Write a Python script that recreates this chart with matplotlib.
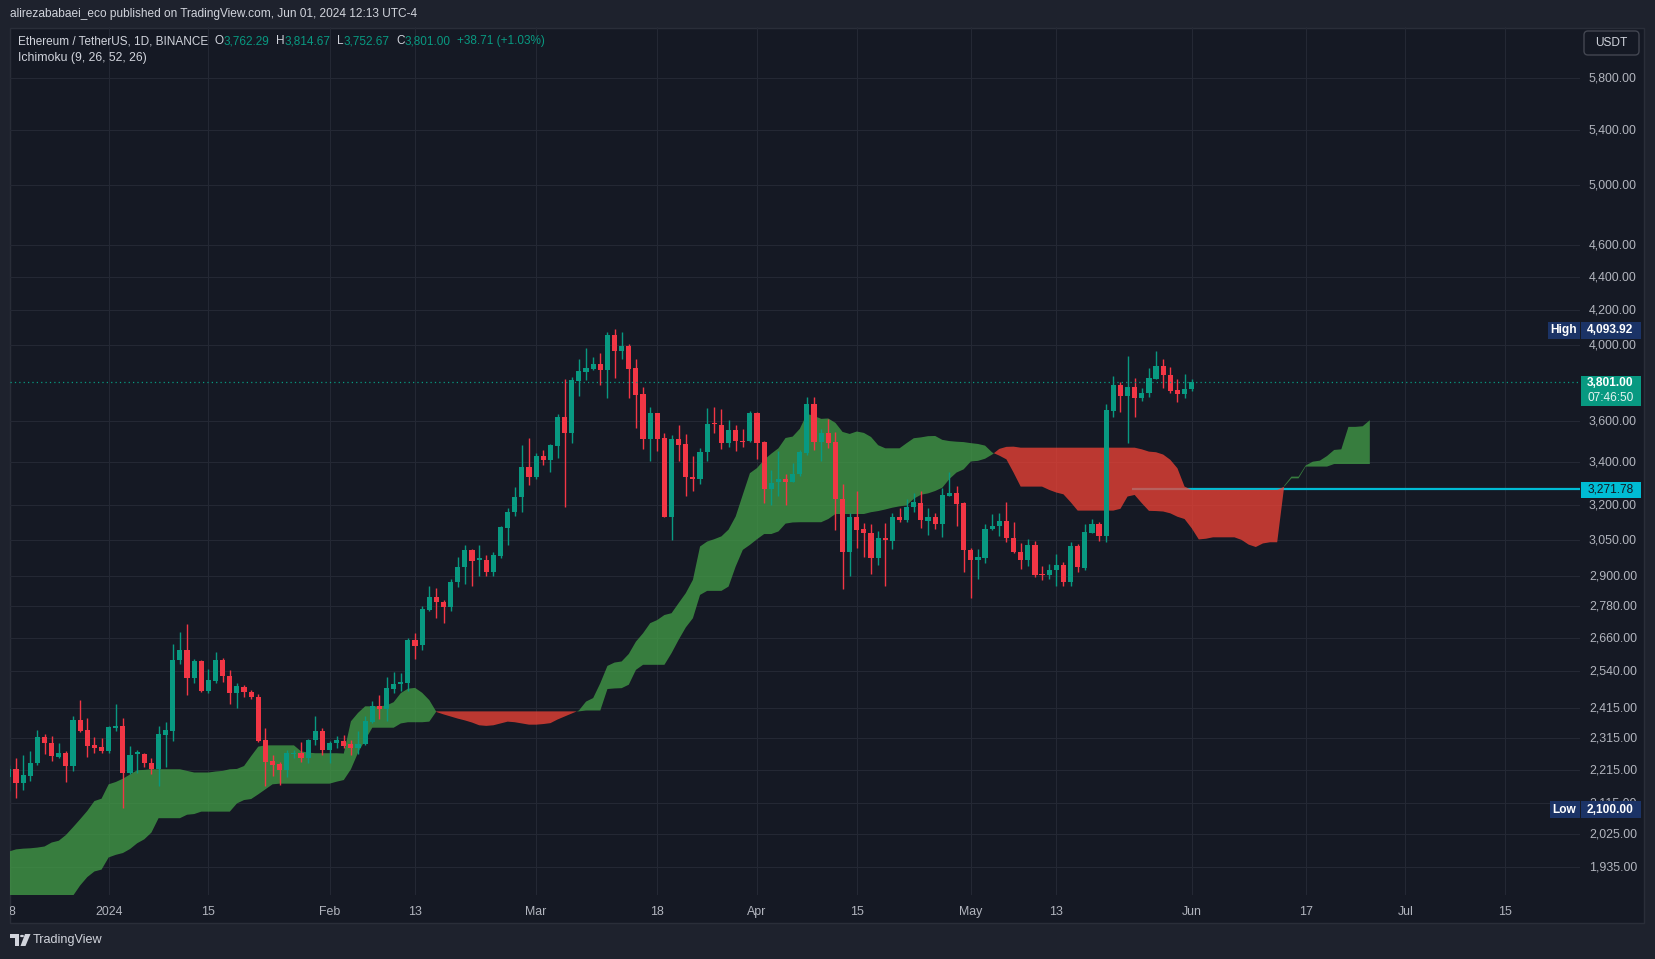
import numpy as np
import pandas as pd
import matplotlib
matplotlib.use("Agg")
import matplotlib.pyplot as plt
from matplotlib.patches import Rectangle, FancyBboxPatch, Polygon, Circle
from matplotlib.collections import LineCollection
from matplotlib.transforms import IdentityTransform, Bbox

# ---------------------------------------------------------------- data
candle_start = "2023-12-18"
candle_end = "2024-06-01"
opens = [2193, 2216, 2174, 2195, 2234, 2318, 2300, 2254, 2268, 2226,
         2375, 2339, 2292, 2285, 2274, 2346, 2352, 2205, 2265, 2265,
         2236, 2216, 2324, 2336, 2580, 2617, 2518, 2578, 2470, 2507,
         2581, 2524, 2463, 2486, 2468, 2450, 2308, 2241, 2231, 2214,
         2264, 2267, 2251, 2309, 2337, 2275, 2297, 2306, 2294, 2283,
         2294, 2367, 2421, 2410, 2479, 2495, 2500, 2654, 2633, 2767,
         2818, 2797, 2776, 2875, 2935, 3008, 2966, 2967, 2915, 2983,
         3103, 3169, 3236, 3377, 3331, 3429, 3410, 3478, 3620, 3542,
         3805, 3855, 3870, 3897, 3866, 4057, 3969, 3996, 3875, 3737,
         3512, 3640, 3515, 3150, 3511, 3486, 3330, 3322, 3445, 3585,
         3580, 3493, 3555, 3499, 3498, 3640, 3495, 3272, 3304, 3319,
         3308, 3342, 3444, 3686, 3497, 3538, 3495, 3228, 2997, 3150,
         3096, 3080, 2976, 3059, 3046, 3150, 3136, 3194, 3211, 3132,
         3150, 3120, 3244, 3256, 3211, 3008, 2964, 2976, 3095, 3108,
         3132, 3059, 3000, 2964, 3029, 2905, 2903, 2923, 2946, 2875,
         3025, 2934, 3079, 3119, 3065, 3651, 3784, 3729, 3774, 3718,
         3742, 3818, 3886, 3838, 3758, 3737, 3762.29]
highs = [2230, 2250, 2262, 2273, 2339, 2326, 2322, 2298, 2273, 2386,
         2442, 2380, 2318, 2316, 2355, 2428, 2381, 2289, 2276, 2268,
         2252, 2355, 2368, 2640, 2682, 2713, 2584, 2582, 2549, 2610,
         2587, 2545, 2499, 2493, 2475, 2462, 2348, 2262, 2239, 2277,
         2277, 2303, 2312, 2388, 2348, 2304, 2320, 2325, 2308, 2336,
         2386, 2438, 2458, 2520, 2536, 2533, 2660, 2680, 2780, 2861,
         2852, 2806, 2888, 2980, 3027, 3012, 3029, 2986, 3000, 3110,
         3190, 3284, 3481, 3516, 3441, 3457, 3486, 3633, 3814, 3825,
         3922, 3983, 3937, 3955, 4076, 4093.92, 4075, 4005, 3922, 3772,
         3668, 3642, 3538, 3531, 3580, 3536, 3429, 3467, 3663, 3668,
         3660, 3605, 3580, 3558, 3651, 3645, 3500, 3363, 3450, 3345,
         3393, 3455, 3724, 3720, 3559, 3608, 3545, 3297, 3165, 3267,
         3124, 3119, 3089, 3124, 3168, 3188, 3229, 3256, 3265, 3187,
         3165, 3278, 3354, 3287, 3217, 3017, 3013, 3119, 3164, 3168,
         3214, 3126, 3035, 3054, 3046, 2941, 2950, 2991, 2956, 3039,
         3034, 3117, 3142, 3126, 3686, 3832, 3802, 3940, 3820, 3771,
         3874, 3968, 3925, 3880, 3817, 3842, 3814.67]
lows = [2150, 2130, 2153, 2180, 2229, 2263, 2241, 2250, 2177, 2211,
        2334, 2255, 2267, 2266, 2266, 2338, 2100, 2201, 2206, 2224,
        2200, 2165, 2223, 2304, 2567, 2458, 2500, 2468, 2466, 2500,
        2501, 2426, 2415, 2450, 2445, 2301, 2165, 2195, 2168, 2193,
        2252, 2238, 2235, 2292, 2262, 2236, 2281, 2281, 2261, 2263,
        2291, 2364, 2377, 2369, 2466, 2470, 2470, 2583, 2615, 2762,
        2737, 2716, 2762, 2856, 2869, 2861, 2901, 2901, 2901, 2974,
        3029, 3154, 3172, 3293, 3319, 3386, 3354, 3420, 3195, 3493,
        3727, 3811, 3864, 3784, 3718, 3823, 3922, 3719, 3566, 3464,
        3404, 3450, 3147, 3050, 3405, 3244, 3265, 3296, 3405, 3538,
        3464, 3470, 3450, 3473, 3496, 3413, 3210, 3203, 3243, 3203,
        3304, 3335, 3433, 3457, 3406, 3467, 3093, 2848, 2901, 3015,
        2978, 2909, 2946, 2861, 3011, 3129, 3129, 3170, 3100, 3071,
        3097, 3061, 3244, 3110, 2916, 2813, 2890, 2955, 3093, 3068,
        3043, 2994, 2929, 2943, 2895, 2884, 2889, 2861, 2859, 2859,
        2918, 2926, 3079, 3046, 3043, 3618, 3646, 3492, 3621, 3702,
        3724, 3815, 3770, 3741, 3697, 3718, 3752.67]
closes = [2216, 2173, 2197, 2236, 2318, 2299, 2257, 2268, 2226, 2375,
          2336, 2290, 2284, 2274, 2350, 2352, 2205, 2262, 2268, 2234,
          2216, 2326, 2339, 2580, 2617, 2518, 2578, 2470, 2509, 2581,
          2522, 2463, 2487, 2467, 2450, 2306, 2238, 2229, 2214, 2266,
          2267, 2251, 2309, 2337, 2275, 2299, 2308, 2290, 2282, 2296,
          2369, 2419, 2410, 2481, 2495, 2504, 2654, 2631, 2771, 2818,
          2796, 2776, 2877, 2938, 3008, 2960, 2972, 2915, 2986, 3106,
          3172, 3239, 3377, 3331, 3429, 3410, 3481, 3620, 3542, 3811,
          3859, 3875, 3897, 3866, 4057, 3969, 3996, 3870, 3732, 3512,
          3640, 3512, 3150, 3511, 3483, 3327, 3322, 3448, 3585, 3582,
          3493, 3555, 3498, 3497, 3640, 3493, 3272, 3302, 3319, 3308,
          3342, 3447, 3686, 3497, 3538, 3492, 3228, 2997, 3150, 3093,
          3078, 2976, 3059, 3048, 3150, 3136, 3194, 3215, 3135, 3150,
          3120, 3247, 3256, 3208, 3006, 2964, 2978, 3098, 3111, 3132,
          3056, 2997, 2964, 3029, 2903, 2903, 2926, 2946, 2875, 3025,
          2935, 3085, 3119, 3065, 3655, 3784, 3729, 3774, 3718, 3742,
          3821, 3886, 3836, 3755, 3737, 3762.29, 3801.00]

cloud_start = "2023-12-18"
cloud_end = "2024-06-26"
lead_a = [1976, 1982, 1984, 1985, 1987, 1990, 2001, 2006, 2022, 2044,
          2067, 2091, 2120, 2127, 2170, 2177, 2187, 2200, 2213, 2214,
          2216, 2216, 2216, 2216, 2216, 2211, 2206, 2206, 2206, 2209,
          2211, 2216, 2217, 2226, 2257, 2287, 2291, 2291, 2291, 2291,
          2291, 2272, 2268, 2266, 2266, 2266, 2266, 2265, 2369, 2397,
          2419, 2419, 2419, 2422, 2433, 2464, 2479, 2482, 2465, 2440,
          2400, 2392, 2385, 2378, 2372, 2365, 2356, 2354, 2356, 2362,
          2368, 2366, 2362, 2358, 2358, 2360, 2363, 2375, 2385, 2395,
          2405, 2435, 2447, 2498, 2559, 2571, 2575, 2602, 2647, 2678,
          2716, 2728, 2747, 2754, 2793, 2832, 2885, 3022, 3043, 3053,
          3065, 3094, 3151, 3248, 3347, 3371, 3410, 3439, 3465, 3515,
          3522, 3560, 3635, 3625, 3610, 3612, 3590, 3545, 3535, 3547,
          3540, 3520, 3480, 3465, 3465, 3465, 3490, 3514, 3518, 3524,
          3525, 3506, 3500, 3497, 3495, 3490, 3486, 3478, 3445, 3430,
          3412, 3350, 3285, 3285, 3285, 3285, 3270, 3258, 3250, 3215,
          3177, 3177, 3177, 3177, 3177, 3177, 3185, 3240, 3247, 3210,
          3176, 3175, 3173, 3165, 3150, 3140, 3100, 3052, 3055, 3061,
          3061, 3061, 3061, 3050, 3030, 3020, 3035, 3040, 3040, 3290,
          3331, 3331, 3383, 3401, 3406, 3428, 3457, 3460, 3570, 3570,
          3573, 3603]
lead_b = [1820, 1820, 1820, 1820, 1820, 1820, 1825, 1830, 1840, 1858,
          1885, 1907, 1922, 1927, 1960, 1967, 1972, 1983, 1999, 2010,
          2029, 2070, 2070, 2070, 2070, 2080, 2082, 2089, 2089, 2089,
          2089, 2089, 2113, 2123, 2126, 2140, 2155, 2170, 2172, 2172,
          2172, 2172, 2172, 2172, 2172, 2172, 2178, 2183, 2216, 2268,
          2308, 2348, 2348, 2348, 2348, 2362, 2366, 2366, 2366, 2368,
          2402, 2402, 2402, 2402, 2402, 2402, 2402, 2402, 2402, 2402,
          2402, 2402, 2402, 2402, 2402, 2402, 2402, 2402, 2402, 2402,
          2402, 2405, 2405, 2405, 2478, 2480, 2481, 2493, 2545, 2563,
          2563, 2563, 2563, 2605, 2654, 2700, 2735, 2825, 2841, 2841,
          2841, 2858, 2939, 3008, 3029, 3053, 3075, 3075, 3086, 3120,
          3125, 3126, 3126, 3126, 3126, 3140, 3162, 3162, 3162, 3162,
          3162, 3170, 3175, 3182, 3190, 3196, 3200, 3230, 3248, 3254,
          3265, 3280, 3320, 3350, 3365, 3402, 3405, 3415, 3435, 3462,
          3472, 3473, 3468, 3468, 3468, 3468, 3468, 3468, 3468, 3468,
          3468, 3468, 3468, 3468, 3468, 3468, 3468, 3468, 3468, 3460,
          3449, 3446, 3435, 3410, 3370, 3285, 3270, 3270, 3270, 3270,
          3270, 3270, 3270, 3270, 3270, 3270, 3270, 3270, 3270, 3285,
          3323, 3323, 3378, 3378, 3378, 3378, 3390, 3390, 3390, 3390,
          3390, 3390]

price_ticks = [5800, 5400, 5000, 4600, 4400, 4200, 4000, 3600, 3400, 3200,
               3050, 2900, 2780, 2660, 2540, 2415, 2315, 2215, 2115, 2025, 1935]
time_tick_dates = ["2023-12-18", "2024-01-01", "2024-01-15", "2024-02-01", "2024-02-13",
                   "2024-03-01", "2024-03-18", "2024-04-01", "2024-04-15", "2024-05-01",
                   "2024-05-13", "2024-06-01", "2024-06-17", "2024-07-01", "2024-07-15"]
time_tick_labels = ["18", "2024", "15", "Feb", "13", "Mar", "18", "Apr", "15", "May",
                    "13", "Jun", "17", "Jul", "15"]

last_price = 3801.00
countdown = "07:46:50"
high_value = 4093.92
low_value = 2100.00
ray_price = 3271.78
ray_start = "2024-05-23 14:00"
currency = "USDT"

header_text = "alirezababaei_eco published on TradingView.com, Jun 01, 2024 12:13 UTC-4"
symbol_title = "Ethereum / TetherUS, 1D, BINANCE"
ohlc_now = [("O", "3,762.29"), ("H", "3,814.67"), ("L", "3,752.67"), ("C", "3,801.00")]
change_text = "+38.71 (+1.03%)"
indicator_title = "Ichimoku (9, 26, 52, 26)"
brand = "TradingView"

# ---------------------------------------------------------------- layout / style
W, H = 1655, 959
PL, PR, PT, PB = 10, 1580, 27, 895
FR, FB = 1644, 923
X0, X1 = -13.85, 206.5
YMIN, YMAX = 1860.0, 6230.6

BG_OUT = "#1e222d"
BG_CH = "#151924"
GRID = "#242834"
TXT = "#d1d4dc"
AXT = "#b2b5be"
UP = "#089981"
DN = "#f23645"
HL_BG = "#1b3366"
FONT = ["Liberation Sans", "DejaVu Sans"]
plt.rcParams["font.family"] = FONT
AX_FS = 8.9

epoch = pd.Timestamp("2024-01-01")


def day(ts):
    return (pd.Timestamp(ts) - epoch) / pd.Timedelta(days=1)


def fx(x):
    return x / W


def fy(y):
    return 1 - y / H


def py(p):
    return PT + (np.log(YMAX) - np.log(p)) / (np.log(YMAX) - np.log(YMIN)) * (PB - PT)


fig = plt.figure(figsize=(W / 100, H / 100), dpi=100, facecolor=BG_OUT)
renderer = fig.canvas.get_renderer()


def box(x0, y0, x1, y1, color, z=5):
    fig.add_artist(Rectangle((fx(x0), fy(y1)), (x1 - x0) / W, (y1 - y0) / H,
                             transform=fig.transFigure, facecolor=color,
                             edgecolor="none", zorder=z))


def tw(s, size, weight="normal"):
    t = fig.text(0, 0, s, fontsize=size, fontweight=weight)
    w = t.get_window_extent(renderer).width
    t.remove()
    return w


# chart frame
fig.add_artist(Rectangle((fx(9.5), fy(FB)), (FR - 9.5) / W, (FB - 27.5) / H,
                         transform=fig.transFigure, facecolor=BG_CH,
                         edgecolor="#2a2e39", lw=1, zorder=-1))

ax = fig.add_axes([fx(PL), fy(PB), (PR - PL) / W, (PB - PT) / H])
ax.set_yscale("log")
ax.set_xlim(X0, X1)
ax.set_ylim(YMIN, YMAX)
ax.axis("off")

for p in price_ticks:
    ax.axhline(p, color=GRID, lw=0.8, zorder=0)
for t in time_tick_dates:
    ax.axvline(day(t), color=GRID, lw=0.8, zorder=0)

# horizontal ray (under the cloud)
ax.plot([day(ray_start), X1], [ray_price, ray_price], color="#00bcd4", lw=1.6,
        zorder=1.5, solid_capstyle="butt")

# ichimoku cloud
cx = (pd.date_range(cloud_start, cloud_end, freq="D") - epoch).days.values.astype(float)
A = np.array(lead_a, float)
B = np.array(lead_b, float)
ax.fill_between(cx, A, B, where=A >= B, interpolate=True, facecolor="#43a047",
                alpha=0.75, lw=0, zorder=2)
ax.fill_between(cx, A, B, where=A <= B, interpolate=True, facecolor="#f44336",
                alpha=0.75, lw=0, zorder=2)

# candles
xs = (pd.date_range(candle_start, candle_end, freq="D") - epoch).days.values.astype(float)
o = np.array(opens, float)
h = np.array(highs, float)
l = np.array(lows, float)
c = np.array(closes, float)
cols = np.where(c >= o, UP, DN)
segs = [[(x, lo), (x, hi)] for x, lo, hi in zip(xs, l, h)]
ax.add_collection(LineCollection(segs, colors=cols, linewidths=1.0, zorder=3))
bot = np.minimum(o, c)
top = np.maximum(np.maximum(o, c), bot * 1.0016)
ax.bar(xs, top - bot, bottom=bot, width=0.72, color=cols, lw=0, zorder=4)

# last price dotted line
ax.axhline(last_price, color=UP, lw=0.9, ls=(0, (1, 2.5)), zorder=5)

# ---------------------------------------------------------------- price scale
LBL_FS = 8.6
yl = py(low_value)
for p in price_ticks:
    t = fig.text(fx(1589), fy(py(p) + 0.5), f"{p:,.2f}", color=AXT, fontsize=AX_FS,
                 ha="left", va="center", zorder=1)
    if abs(py(p) - yl) < 12:
        # the reference shows only the top sliver of this label above the Low tag
        t.set_clip_box(Bbox.from_extents(1580, H - (yl - 6.5), 1650, H))

# High
yh = py(high_value)
box(1547.5, yh - 6.5, 1579.5, yh + 10, HL_BG)
box(1580.5, yh - 6.5, 1640.5, yh + 10, HL_BG)
fig.text(fx(1563.5), fy(yh + 1.8), "High", color="white", fontsize=LBL_FS,
         fontweight="bold", ha="center", va="center", zorder=6)
fig.text(fx(1610.5), fy(yh + 1.8), f"{high_value:,.2f}", color="white",
         fontsize=LBL_FS, fontweight="bold", ha="center", va="center", zorder=6)
# Low
box(1549.5, yl - 6.5, 1579.5, yl + 10, HL_BG)
box(1580.5, yl - 6.5, 1640.5, yl + 10, HL_BG)
fig.text(fx(1564.5), fy(yl + 1.8), "Low", color="white", fontsize=LBL_FS,
         fontweight="bold", ha="center", va="center", zorder=6)
fig.text(fx(1610.5), fy(yl + 1.8), f"{low_value:,.2f}", color="white",
         fontsize=LBL_FS, fontweight="bold", ha="center", va="center", zorder=6)
# last price
yp = py(last_price)
box(1580.5, yp - 6, 1640.5, yp + 24, UP)
fig.text(fx(1610.5), fy(yp + 1.5), f"{last_price:,.2f}", color="white",
         fontsize=LBL_FS, fontweight="bold", ha="center", va="center", zorder=6)
fig.text(fx(1610.5), fy(yp + 16.5), countdown, color="#e6f4f1",
         fontsize=LBL_FS, ha="center", va="center", zorder=6)
# ray label
yr = py(ray_price)
box(1580.5, yr - 7.5, 1640.5, yr + 8.5, "#00bcd4")
fig.text(fx(1610.5), fy(yr + 0.5), f"{ray_price:,.2f}", color="#131722",
         fontsize=LBL_FS, ha="center", va="center", zorder=6)

# currency button
fig.add_artist(FancyBboxPatch((1584, H - 55), 55, 24,
                              boxstyle="round,pad=0,rounding_size=4",
                              transform=IdentityTransform(), facecolor=BG_CH,
                              edgecolor="#434651", lw=1, zorder=5))
fig.text(fx(1611.5), fy(43), currency, color=TXT, fontsize=8.6,
         ha="center", va="center", zorder=6)

# ---------------------------------------------------------------- time scale
tax = fig.add_axes([fx(PL), fy(FB), (PR - PL) / W, (FB - PB) / H])
tax.set_xlim(X0, X1)
tax.set_ylim(0, 1)
tax.axis("off")
for t, lab in zip(time_tick_dates, time_tick_labels):
    tax.text(day(t), 0.39, lab, ha="center", va="center", color=AXT,
             fontsize=AX_FS, clip_on=True)

# ---------------------------------------------------------------- header / legend
hs = 10 * 410 / tw(header_text, 10)
fig.text(fx(9.5), fy(14), header_text, color=TXT, fontsize=hs, va="center", ha="left")

full_legend = symbol_title + "  " + "  ".join(k + v for k, v in ohlc_now) + "  " + change_text
ls_ = 10 * 527 / tw(full_legend, 10)
gap = tw("O  O", ls_) - tw("OO", ls_)
x = 18.0
ylg = 41
fig.text(fx(x), fy(ylg), symbol_title, color=TXT, fontsize=ls_, va="center", ha="left")
x += tw(symbol_title, ls_) + gap
for k, v in ohlc_now:
    fig.text(fx(x), fy(ylg), k, color=TXT, fontsize=ls_, va="center", ha="left")
    x += tw(k, ls_)
    fig.text(fx(x), fy(ylg), v, color=UP, fontsize=ls_, va="center", ha="left")
    x += tw(v, ls_) + gap
fig.text(fx(x), fy(ylg), change_text, color=UP, fontsize=ls_, va="center", ha="left")

isz = 10 * 129 / tw(indicator_title, 10)
fig.text(fx(18), fy(58), indicator_title, color=TXT, fontsize=isz, va="center", ha="left")

# ---------------------------------------------------------------- footer logo
logo_col = "#d1d4dc"
fig.add_artist(Polygon([(fx(10), fy(934)), (fx(19), fy(934)), (fx(19), fy(946)),
                        (fx(15), fy(946)), (fx(15), fy(938)), (fx(10), fy(938))],
                       closed=True, transform=fig.transFigure, facecolor=logo_col,
                       edgecolor="none"))
fig.add_artist(Circle((fx(22), fy(936)), 2.0 / W, transform=fig.transFigure,
                      facecolor=logo_col, edgecolor="none"))
fig.add_artist(Polygon([(fx(25), fy(934)), (fx(30.5), fy(934)), (fx(25.5), fy(946)),
                        (fx(20.5), fy(946))], closed=True, transform=fig.transFigure,
                       facecolor=logo_col, edgecolor="none"))
bs = 10 * 70 / tw(brand, 10)
fig.text(fx(33), fy(940.5), brand, color=logo_col, fontsize=bs, va="center", ha="left")

fig.savefig("out.png", dpi=100, facecolor=BG_OUT)
